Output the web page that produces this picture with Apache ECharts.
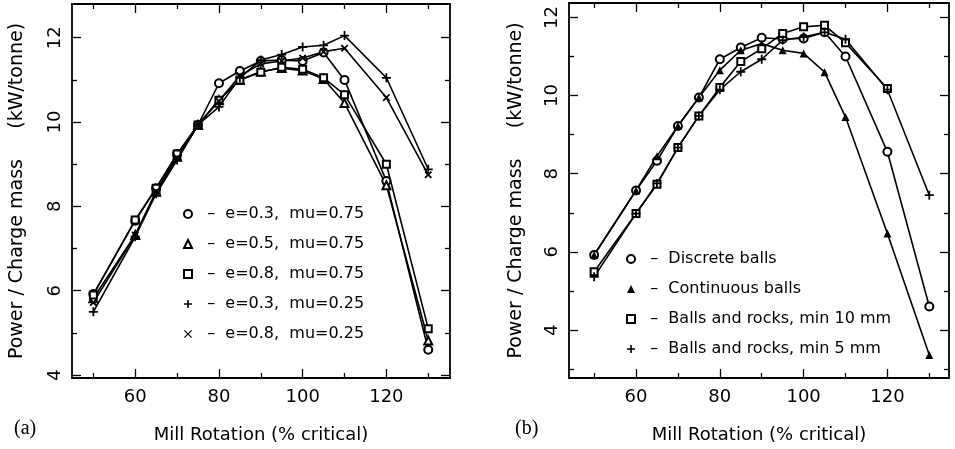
<!DOCTYPE html>
<html><head><meta charset="utf-8">
<script src="https://cdn.jsdelivr.net/npm/echarts@6/dist/echarts.min.js"></script>
<style>html,body{margin:0;padding:0;background:#fff}#c{width:955px;height:449px}</style>
</head><body><div id="c"></div>
<script>
// ---- data ----
const rotation = [50, 60, 65, 70, 75, 80, 85, 90, 95, 100, 105, 110, 120, 130];
const xMajorTicks = [60, 80, 100, 120];
const xMinorTicks = [50, 70, 90, 110, 130];
const yMajorTicks = [4, 6, 8, 10, 12];
const yMinorTicksA = [5, 7, 9, 11];
const yMinorTicksB = [3, 5, 7, 9, 11];

const namesA = ['e=0.3,  mu=0.75', 'e=0.5,  mu=0.75', 'e=0.8,  mu=0.75', 'e=0.3,  mu=0.25', 'e=0.8,  mu=0.25'];
const a_e03_mu075 = [5.92, 7.66, 8.43, 9.24, 9.93, 10.92, 11.21, 11.45, 11.47, 11.45, 11.65, 11.0, 8.6, 4.6];
const a_e05_mu075 = [5.82, 7.32, 8.35, 9.18, 9.93, 10.52, 11.0, 11.2, 11.28, 11.22, 11.02, 10.45, 8.5, 4.82];
const a_e08_mu075 = [5.9, 7.68, 8.43, 9.24, 9.93, 10.52, 11.0, 11.18, 11.3, 11.25, 11.05, 10.65, 9.0, 5.1];
const a_e03_mu025 = [5.5, 7.28, 8.3, 9.1, 9.93, 10.36, 11.05, 11.47, 11.6, 11.78, 11.82, 12.05, 11.05, 8.88];
const a_e08_mu025 = [5.72, 7.32, 8.35, 9.15, 9.93, 10.5, 11.1, 11.38, 11.45, 11.52, 11.67, 11.75, 10.58, 8.75];

const namesB = ['Discrete balls', 'Continuous balls', 'Balls and rocks, min 10 mm', 'Balls and rocks, min 5 mm'];
const b_discrete = [5.92, 7.57, 8.33, 9.22, 9.95, 10.93, 11.23, 11.48, 11.45, 11.46, 11.62, 11.0, 8.56, 4.6];
const b_continuous = [5.92, 7.57, 8.45, 9.22, 9.95, 10.65, 11.16, 11.33, 11.16, 11.08, 10.6, 9.45, 6.47, 3.36];
const b_rocks10 = [5.49, 6.98, 7.73, 8.67, 9.48, 10.21, 10.87, 11.2, 11.59, 11.76, 11.8, 11.35, 10.18, null];
const b_rocks5 = [5.36, 6.98, 7.75, 8.67, 9.48, 10.15, 10.61, 10.93, 11.42, 11.5, 11.62, 11.44, 10.15, 7.45];

// ---- styling ----
const FONT = 'DejaVu Sans';
const PLUS = 'path://M4,0H6V4H10V6H6V10H4V6H0V4H4Z';

function pairs(vals) { return rotation.map((x, i) => [x, vals[i]]); }

const grids = [
  { left: 72, top: 4, width: 378, height: 374, xr: [44.9, 135.2], yr: [3.93, 12.8], yMinor: yMinorTicksA, nameGap: 45 },
  { left: 569, top: 3, width: 380, height: 375, xr: [44.0, 134.7], yr: [2.77, 12.37], yMinor: yMinorTicksB, nameGap: 43 }
];

const xAxes = [], yAxes = [];
grids.forEach((g, gi) => {
  const mk = (pos, ticks, len, labels, isX) => {
    const ax = {
      type: 'value', gridIndex: gi, position: pos,
      min: isX ? g.xr[0] : g.yr[0], max: isX ? g.xr[1] : g.yr[1],
      axisLine: { show: false },
      splitLine: { show: false },
      axisTick: { show: true, inside: true, length: len, customValues: ticks, lineStyle: { color: '#000', width: 1.3 } },
      axisLabel: { show: false }
    };
    if (labels) {
      ax.axisLabel = isX
        ? { show: true, customValues: ticks, color: '#000', fontFamily: FONT, fontSize: 18, margin: 10 }
        : { show: true, customValues: ticks, color: '#000', fontFamily: FONT, fontSize: 18, margin: 8, rotate: 90 };
      if (isX) {
        ax.name = 'Mill Rotation (% critical)';
        ax.nameLocation = 'middle';
        ax.nameGap = 48;
        ax.nameTextStyle = { color: '#000', fontFamily: FONT, fontSize: 18 };
      } else {
        ax.name = 'Power / Charge mass     (kW/tonne)';
        ax.nameLocation = 'middle';
        ax.nameGap = g.nameGap;
        ax.nameTextStyle = { color: '#000', fontFamily: FONT, fontSize: 19 };
      }
    }
    return ax;
  };
  xAxes.push(mk('bottom', xMajorTicks, 9, true, true));
  xAxes.push(mk('bottom', xMinorTicks, 5, false, true));
  xAxes.push(mk('top', xMajorTicks, 9, false, true));
  xAxes.push(mk('top', xMinorTicks, 5, false, true));
  yAxes.push(mk('left', yMajorTicks, 9, true, false));
  yAxes.push(mk('left', g.yMinor, 5, false, false));
  yAxes.push(mk('right', yMajorTicks, 9, false, false));
  yAxes.push(mk('right', g.yMinor, 5, false, false));
});

function line(name, vals, gi, symbol, opts) {
  return Object.assign({
    type: 'line', name: name, data: pairs(vals),
    xAxisIndex: gi * 4, yAxisIndex: gi * 4,
    symbol: symbol, symbolSize: 8, showSymbol: true,
    color: '#000',
    lineStyle: { color: '#000', width: 1.6 },
    itemStyle: { color: '#000', borderColor: '#000', borderWidth: 1.4 },
    emphasis: { disabled: true },
    animation: false, clip: true
  }, opts || {});
}

const series = [
  line(namesA[0], a_e03_mu075, 0, 'emptyCircle'),
  line(namesA[1], a_e05_mu075, 0, 'emptyTriangle'),
  line(namesA[2], a_e08_mu075, 0, 'emptyRect', { symbolSize: 7 }),
  line(namesA[3], a_e03_mu025, 0, PLUS, { symbolSize: 9, itemStyle: { color: '#000', borderWidth: 0 } }),
  line(namesA[4], a_e08_mu025, 0, PLUS, { symbolSize: 9, symbolRotate: 45, itemStyle: { color: '#000', borderWidth: 0 } }),
  line(namesB[0], b_discrete, 1, 'emptyCircle'),
  line(namesB[1], b_continuous, 1, 'triangle', { itemStyle: { color: '#000', borderWidth: 0 } }),
  line(namesB[2], b_rocks10, 1, 'emptyRect', { symbolSize: 7 }),
  line(namesB[3], b_rocks5, 1, PLUS, { symbolSize: 9, itemStyle: { color: '#000', borderWidth: 0 } })
];

const legendText = { color: '#000', fontFamily: FONT, fontSize: 16, lineHeight: 16 };
const iconsA = ['emptyCircle', 'emptyTriangle', 'emptyRect', PLUS, 'path://M1,0L5,4L9,0L10,1L6,5L10,9L9,10L5,6L1,10L0,9L4,5L0,1Z'];
const iconsB = ['emptyCircle', 'triangle', 'emptyRect', PLUS];

const option = {
  backgroundColor: '#fff',
  animation: false,
  grid: grids.map(g => ({
    left: g.left, top: g.top, width: g.width, height: g.height,
    show: true, borderColor: '#000', borderWidth: 1.8, backgroundColor: 'transparent',
    containLabel: false, outerBoundsMode: 'none'
  })),
  xAxis: xAxes,
  yAxis: yAxes,
  legend: [
    {
      orient: 'vertical', left: 178, top: 201, itemWidth: 8, itemHeight: 8, itemGap: 14,
      selectedMode: false, textStyle: legendText,
      data: namesA.map((n, i) => ({ name: n, icon: iconsA[i] })),
      formatter: n => '  \u2013  ' + n
    },
    {
      orient: 'vertical', left: 621, top: 246, itemWidth: 8, itemHeight: 8, itemGap: 14,
      selectedMode: false, textStyle: legendText,
      data: namesB.map((n, i) => ({ name: n, icon: iconsB[i] })),
      formatter: n => '  \u2013  ' + n
    }
  ],
  graphic: [
    { type: 'text', left: 14, top: 419, style: { text: '(a)', font: '20px "Liberation Serif"', fill: '#000' } },
    { type: 'text', left: 515, top: 419, style: { text: '(b)', font: '20px "Liberation Serif"', fill: '#000' } }
  ],
  series: series
};

const chart = echarts.init(document.getElementById('c'), null, { renderer: 'canvas' });
chart.setOption(option);
</script>
</body></html>
